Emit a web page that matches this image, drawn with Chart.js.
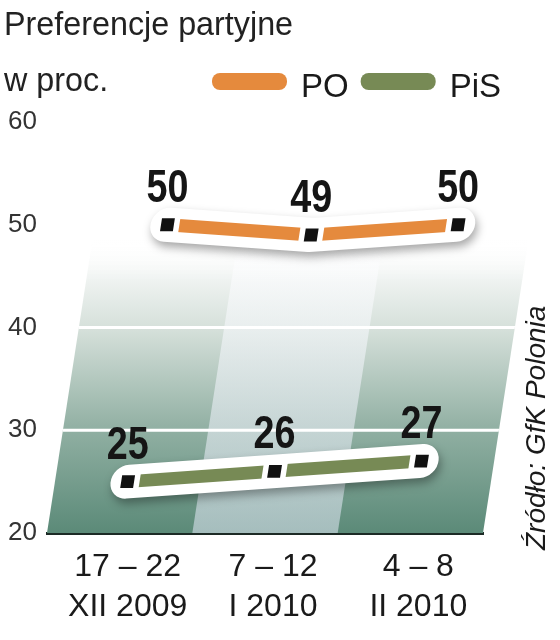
<!DOCTYPE html>
<html><head><meta charset="utf-8">
<script src="https://cdn.jsdelivr.net/npm/chart.js@4.4.1/dist/chart.umd.min.js"></script>
<style>html,body{margin:0;padding:0;background:#fff}#wrap{width:560px;height:640px}</style>
</head><body><div id="wrap"><canvas id="c" width="560" height="640"></canvas></div>
<script>
const titleLines = ['Preferencje partyjne', 'w proc.'];
const sourceText = 'Źródło: GfK Polonia';
const periods = [['17 – 22', 'XII 2009'], ['7 – 12', 'I 2010'], ['4 – 8', 'II 2010']];
const seriesNames = ['PO', 'PiS'];
const poValues = [50, 49, 50];
const pisValues = [25, 26, 27];
const seriesColors = ['#e58a3d', '#778a55'];
const yMin = 20, yMax = 60, yStep = 10;
const gridValues = [30, 40, 50];

const SKEW = 0.155;
const SANS = '"Liberation Sans", Arial, sans-serif';

function sx(chart, x, y) { return x + SKEW * (chart.chartArea.bottom - y); }

function narrowText(ctx, text, x, y, sxf) {
  ctx.save();
  ctx.translate(x, y);
  ctx.scale(sxf, 1);
  ctx.fillText(text, 0, 0);
  ctx.restore();
}

const skewPlugin = {
  id: 'skew',
  beforeDatasetsDraw(chart) {
    const { ctx, chartArea: a, scales: { x, y } } = chart;
    ctx.save();
    ctx.transform(1, 0, -SKEW, 1, SKEW * a.bottom, 0);
    const topY = y.getPixelForValue(48.5);
    const g = ctx.createLinearGradient(0, a.bottom, 0, topY);
    g.addColorStop(0, '#5b8a78');
    g.addColorStop(0.35, '#90afa2');
    g.addColorStop(0.69, '#d4dfd9');
    g.addColorStop(0.86, '#eef2f0');
    g.addColorStop(1, 'rgba(255,255,255,0)');
    ctx.fillStyle = g;
    ctx.fillRect(a.left, topY, a.right - a.left, a.bottom - topY);
    // middle highlighted column
    const w = x.getPixelForValue(1) - x.getPixelForValue(0);
    const cx = x.getPixelForValue(1);
    const g2 = ctx.createLinearGradient(0, a.bottom, 0, topY);
    g2.addColorStop(0, 'rgba(226,232,246,0.55)');
    g2.addColorStop(1, 'rgba(255,255,255,0.6)');
    ctx.fillStyle = g2;
    ctx.fillRect(cx - w / 2, topY, w, a.bottom - topY);
    // grid lines
    ctx.strokeStyle = '#ffffff';
    ctx.lineWidth = 3;
    gridValues.forEach(v => {
      const py = y.getPixelForValue(v);
      ctx.beginPath(); ctx.moveTo(a.left, py); ctx.lineTo(a.right, py); ctx.stroke();
    });
    // white capsules with shadow
    chart.data.datasets.forEach((ds, i) => {
      const meta = chart.getDatasetMeta(i);
      ctx.save();
      ctx.shadowColor = 'rgba(0,0,0,0.35)';
      ctx.shadowBlur = 10;
      ctx.shadowOffsetX = 2;
      ctx.shadowOffsetY = 5;
      ctx.strokeStyle = '#ffffff';
      ctx.lineWidth = 34;
      ctx.lineCap = 'round';
      ctx.lineJoin = 'round';
      ctx.beginPath();
      meta.data.forEach((p, j) => j ? ctx.lineTo(p.x, p.y) : ctx.moveTo(p.x, p.y));
      ctx.stroke();
      ctx.restore();
    });
  },
  afterDatasetsDraw(chart) {
    const ctx = chart.ctx;
    ctx.restore();
    ctx.save();
    ctx.fillStyle = '#151515';
    ctx.font = 'bold 46px ' + SANS;
    ctx.textAlign = 'center';
    ctx.textBaseline = 'alphabetic';
    chart.data.datasets.forEach((ds, i) => {
      const meta = chart.getDatasetMeta(i);
      meta.data.forEach((p, j) => {
        narrowText(ctx, String(ds.data[j]), sx(chart, p.x, p.y), p.y - 23, 0.82);
      });
    });
    ctx.restore();
  },
  afterDraw(chart) {
    const ctx = chart.ctx;
    ctx.save();
    ctx.fillStyle = '#222';
    ctx.font = '34px ' + SANS;
    ctx.textAlign = 'left';
    ctx.textBaseline = 'alphabetic';
    narrowText(ctx, titleLines[0], 4, 35, 0.95);
    narrowText(ctx, titleLines[1], 4, 91, 0.95);
    // legend
    ctx.font = '33px ' + SANS;
    let lx = 212;
    chart.data.datasets.forEach((ds, i) => {
      ctx.fillStyle = ds.borderColor;
      ctx.beginPath();
      ctx.roundRect(lx, 73, 75, 17, 8);
      ctx.fill();
      ctx.fillStyle = '#1a1a1a';
      ctx.fillText(ds.label, lx + 89, 97);
      lx += 89 + ctx.measureText(ds.label).width + 12;
    });
    // source
    ctx.translate(545, 550);
    ctx.rotate(-Math.PI / 2);
    ctx.font = 'italic 28px ' + SANS;
    ctx.fillStyle = '#1a1a1a';
    ctx.fillText(sourceText, 0, 0);
    ctx.restore();
  }
};

new Chart(document.getElementById('c'), {
  type: 'line',
  data: {
    labels: periods,
    datasets: [
      { label: seriesNames[0], data: poValues, borderColor: seriesColors[0], backgroundColor: seriesColors[0],
        borderWidth: 13, pointStyle: 'rect', pointRadius: 13, pointBackgroundColor: '#111', pointBorderColor: '#fff',
        pointBorderWidth: 5.5, tension: 0, clip: false, borderCapStyle: 'butt' },
      { label: seriesNames[1], data: pisValues, borderColor: seriesColors[1], backgroundColor: seriesColors[1],
        borderWidth: 13, pointStyle: 'rect', pointRadius: 13, pointBackgroundColor: '#111', pointBorderColor: '#fff',
        pointBorderWidth: 5.5, tension: 0, clip: false, borderCapStyle: 'butt' }
    ]
  },
  options: {
    responsive: false,
    animation: false,
    devicePixelRatio: 1,
    layout: { padding: { top: 122, left: 8, right: 77, bottom: 0 } },
    plugins: { legend: { display: false }, tooltip: { enabled: false }, title: { display: false } },
    scales: {
      x: {
        offset: true,
        grid: { display: false, drawTicks: false },
        border: { display: true, color: '#1c2a25', width: 3 },
        ticks: { font: { family: SANS, size: 32, lineHeight: 1.25 }, color: '#1a1a1a', padding: 14, labelOffset: 8, maxRotation: 0, autoSkip: false },
        afterFit(s) { s.height = 107; }
      },
      y: {
        min: yMin, max: yMax,
        grid: { display: false, drawTicks: false },
        border: { display: false },
        ticks: { stepSize: yStep, font: { family: SANS, size: 26 }, color: '#333', padding: 0, crossAlign: 'far' },
        afterFit(s) { s.width = 39; }
      }
    }
  },
  plugins: [skewPlugin]
});
</script>
</body></html>
